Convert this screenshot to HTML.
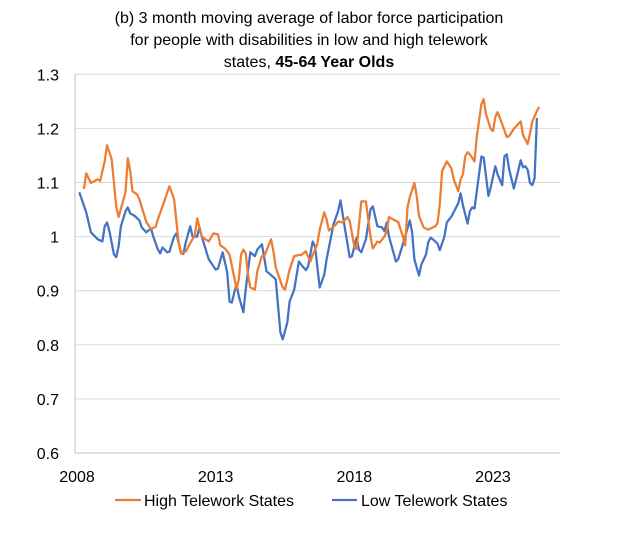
<!DOCTYPE html>
<html><head><meta charset="utf-8"><style>
body{margin:0;background:#fff;}
svg text{font-family:"Liberation Sans",sans-serif;fill:#000;}
</style></head><body>
<svg id="chart" width="617" height="531" viewBox="0 0 617 531" xmlns="http://www.w3.org/2000/svg">
<g font-size="16" text-anchor="middle">
<text x="309" y="23">(b) 3 month moving average of labor force participation</text>
<text x="309" y="45">for people with disabilities in low and high telework</text>
<text x="309" y="67">states, <tspan font-weight="bold">45-64 Year Olds</tspan></text>
</g>
<g id="grid"></g>
<g id="yticks" font-size="16" text-anchor="end"></g>
<g id="xticks" font-size="16" text-anchor="middle"></g>
<g id="series"></g>
<g font-size="16">
<g><line x1="115" y1="500" x2="141" y2="500" stroke="#ED7D31" stroke-width="2.25"/><text x="144" y="506">High Telework States</text></g>
<g><line x1="332" y1="500" x2="357" y2="500" stroke="#4472C4" stroke-width="2.25"/><text x="361" y="506">Low Telework States</text></g>
</g>
</svg>
<script>
const yTicks=[0.6,0.7,0.8,0.9,1,1.1,1.2,1.3];
const yTickLabels=["0.6","0.7","0.8","0.9","1","1.1","1.2","1.3"];
const xTickMonths=[0,60,120,180];
const xTickLabels=["2008","2013","2018","2023"];
const highMonths=[3,4,6,9,10,12,13,15,17,18,21,22,23,24,26,27,30,32,34,35,37,40,42,44,45,47,49,51,52,54,57,59,61,62,64,65,66,68,69,70,71,72,73,74,75,77,78,80,81,84,85,86,89,90,92,94,96,97,99,101,102,104,105,107,108,109,112,113,115,117,118,120,121,123,125,127,128,130,131,133,134,135,138,139,141,142,143,144,146,147,148,150,152,153,155,156,157,158,160,162,163,165,166,167,168,169,170,172,173,175,176,177,179,180,181,182,184,186,187,189,192,193,195,196,197,199,200];
const highValues=[1.088,1.117,1.099,1.106,1.103,1.139,1.169,1.143,1.054,1.036,1.082,1.145,1.121,1.084,1.078,1.069,1.027,1.014,1.018,1.032,1.056,1.093,1.069,0.988,0.969,0.972,0.988,1.003,1.034,1.0,0.991,1.006,1.004,0.984,0.978,0.973,0.967,0.926,0.902,0.921,0.967,0.976,0.969,0.930,0.906,0.902,0.936,0.964,0.964,0.995,0.973,0.943,0.906,0.902,0.939,0.964,0.966,0.966,0.973,0.954,0.966,0.986,1.013,1.045,1.032,1.011,1.022,1.028,1.026,1.036,1.029,0.982,0.977,1.065,1.065,1.0,0.978,0.991,0.989,1.0,1.01,1.036,1.029,1.027,1.0,0.984,1.054,1.073,1.099,1.075,1.038,1.017,1.013,1.015,1.019,1.025,1.06,1.121,1.139,1.126,1.106,1.084,1.106,1.115,1.148,1.156,1.152,1.139,1.185,1.245,1.254,1.226,1.199,1.195,1.221,1.23,1.208,1.184,1.186,1.199,1.213,1.188,1.171,1.19,1.213,1.232,1.24];
const lowMonths=[1,4,6,9,11,12,13,14,16,17,18,19,21,22,23,25,27,28,30,32,33,35,36,37,39,40,42,43,45,46,47,49,50,52,53,54,57,60,61,63,65,66,67,69,70,72,73,75,77,78,80,82,85,86,87,88,89,91,92,94,96,97,99,100,102,103,105,107,108,111,113,114,116,118,119,121,122,123,125,127,128,130,132,133,134,135,138,139,141,144,145,146,148,149,151,152,153,154,156,157,159,160,162,165,166,167,169,170,171,172,175,176,177,178,179,181,182,184,185,186,187,189,190,192,193,194,195,196,197,198,199];
const lowValues=[1.082,1.045,1.008,0.995,0.991,1.019,1.026,1.01,0.967,0.962,0.982,1.019,1.047,1.054,1.043,1.038,1.03,1.017,1.008,1.015,1.0,0.976,0.969,0.98,0.971,0.972,1.0,1.006,0.971,0.968,0.988,1.019,1.0,1.0,1.017,1.0,0.958,0.939,0.941,0.971,0.934,0.88,0.878,0.913,0.89,0.86,0.902,0.971,0.964,0.976,0.986,0.936,0.925,0.921,0.871,0.823,0.81,0.841,0.88,0.902,0.954,0.948,0.938,0.945,0.991,0.982,0.906,0.93,0.958,1.023,1.047,1.067,1.013,0.962,0.964,0.998,0.976,0.971,0.995,1.05,1.056,1.019,1.017,1.01,1.026,1.0,0.954,0.958,0.986,1.03,1.008,0.958,0.928,0.948,0.967,0.99,0.998,0.995,0.987,0.975,1.0,1.026,1.037,1.062,1.08,1.058,1.024,1.047,1.054,1.052,1.148,1.146,1.112,1.075,1.091,1.13,1.115,1.095,1.149,1.152,1.124,1.089,1.106,1.141,1.128,1.13,1.124,1.099,1.095,1.108,1.219];

const NS="http://www.w3.org/2000/svg";
const X0=77, PX_PER_MONTH=2.311, PLOT_L=75, PLOT_R=560;
const Y_TOP=74.3, Y_BOT=453, YMIN=0.6, YMAX=1.3;
function xScale(m){return X0+m*PX_PER_MONTH;}
function yScale(v){return Y_BOT-(v-YMIN)/(YMAX-YMIN)*(Y_BOT-Y_TOP);}

const grid=document.getElementById('grid');
yTicks.forEach((t,i)=>{
  const l=document.createElementNS(NS,'line');
  l.setAttribute('x1',PLOT_L);l.setAttribute('x2',PLOT_R);
  l.setAttribute('y1',yScale(t));l.setAttribute('y2',yScale(t));
  l.setAttribute('stroke',i===0?'#bfbfbf':'#d9d9d9');l.setAttribute('stroke-width','1');
  
  
  grid.appendChild(l);
  const tx=document.createElementNS(NS,'text');
  tx.setAttribute('x',59);tx.setAttribute('y',yScale(t)+6);
  tx.textContent=yTickLabels[i];
  
  
  document.getElementById('yticks').appendChild(tx);
});
const ax=document.createElementNS(NS,'line');
ax.setAttribute('x1',PLOT_L);ax.setAttribute('x2',PLOT_L);ax.setAttribute('y1',Y_TOP);ax.setAttribute('y2',Y_BOT);
ax.setAttribute('stroke','#bfbfbf');


grid.appendChild(ax);
xTickMonths.forEach((m,i)=>{
  const tx=document.createElementNS(NS,'text');
  tx.setAttribute('x',xScale(m));tx.setAttribute('y',482);
  tx.textContent=xTickLabels[i];
  
  
  document.getElementById('xticks').appendChild(tx);
});
function drawLine(ms,vs,color,name){
  const p=document.createElementNS(NS,'polyline');
  p.setAttribute('points',ms.map((m,i)=>xScale(m).toFixed(1)+','+yScale(vs[i]).toFixed(1)).join(' '));
  p.setAttribute('fill','none');p.setAttribute('stroke',color);p.setAttribute('stroke-width','2.25');
  p.setAttribute('stroke-linejoin','round');
  
  
  document.getElementById('series').appendChild(p);
}
drawLine(lowMonths,lowValues,'#4472C4','low-telework-line');
drawLine(highMonths,highValues,'#ED7D31','high-telework-line');
</script>
</body></html>
